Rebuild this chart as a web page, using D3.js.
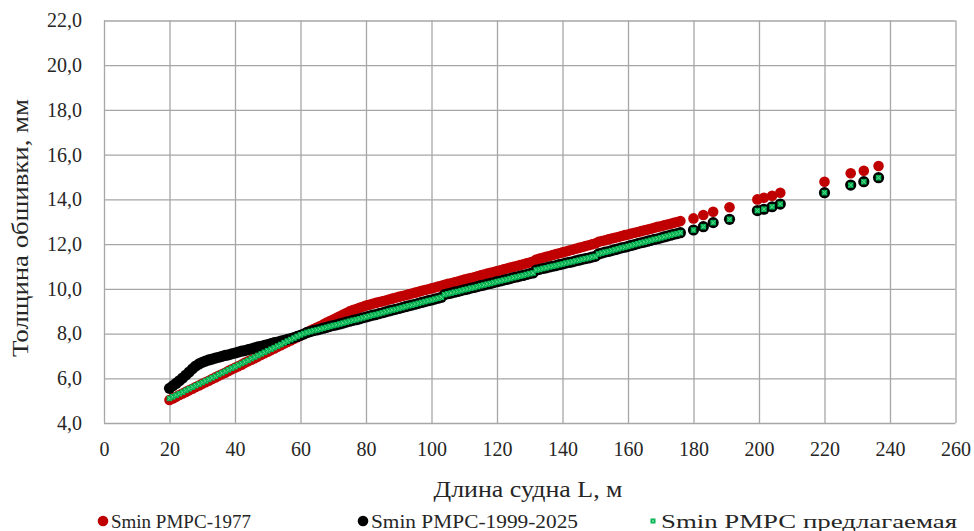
<!DOCTYPE html>
<html lang="ru">
<head>
<meta charset="utf-8">
<script src="https://cdn.jsdelivr.net/npm/d3@7"></script>
<style>
  html, body { margin: 0; padding: 0; background: #ffffff; }
  svg { display: block; }
  .axis path { display: none; }
  .axis line { stroke: #a6a6a6; stroke-width: 1.3; }
</style>
</head>
<body>
<svg id="chart" width="974" height="531"></svg>
<script>
// Ship length L, m (shared by all three series)
const lengths = [
  20,21,22,23,24,25,26,27,28,29,30,31,32,33,34,35,36,37,38,39,
  40,41,42,43,44,45,46,47,48,49,50,51,52,53,54,55,56,57,58,59,
  60,61,62,63,64,65,66,67,68,69,70,71,72,73,74,75,76,77,78,79,
  80,81,82,83,84,85,86,87,88,89,90,91,92,93,94,95,96,97,98,99,
  100,101,102,103,104,105,106,107,108,109,110,111,112,113,114,115,116,117,118,119,
  120,121,122,123,124,125,126,127,128,129,130,131,132,133,134,135,136,137,138,139,
  140,141,142,143,144,145,146,147,148,149,150,151,152,153,154,155,156,157,158,159,
  160,161,162,163,164,165,166,167,168,169,170,171,172,173,174,175,176,
  180,183,186,191,199.5,201.5,204,206.5,220,228,232,236.5
];

// Smin РМРС-1977, mm
const rmrs1977 = [
  5.03,5.10,5.17,5.25,5.32,5.39,5.46,5.53,5.61,5.68,5.75,5.82,5.89,5.97,6.04,6.11,6.18,6.25,6.33,6.40,
  6.47,6.54,6.61,6.69,6.76,6.83,6.90,6.97,7.05,7.12,7.19,7.26,7.33,7.41,7.48,7.55,7.62,7.69,7.77,7.84,
  7.91,7.98,8.05,8.13,8.20,8.27,8.34,8.41,8.49,8.56,8.63,8.70,8.77,8.85,8.92,8.99,9.05,9.10,9.15,9.20,
  9.25,9.29,9.33,9.37,9.41,9.44,9.48,9.52,9.56,9.60,9.64,9.68,9.71,9.75,9.79,9.83,9.87,9.91,9.95,9.98,
  10.02,10.06,10.10,10.14,10.18,10.22,10.25,10.29,10.33,10.37,10.41,10.45,10.48,10.52,10.56,10.60,10.64,10.68,10.72,10.75,
  10.79,10.83,10.87,10.91,10.95,10.98,11.02,11.06,11.10,11.14,11.18,11.22,11.31,11.35,11.39,11.43,11.47,11.51,11.55,11.59,
  11.63,11.67,11.71,11.75,11.79,11.83,11.87,11.91,11.95,11.99,12.03,12.10,12.14,12.17,12.21,12.25,12.28,12.32,12.36,12.40,
  12.43,12.47,12.51,12.54,12.58,12.62,12.65,12.69,12.73,12.77,12.80,12.84,12.88,12.91,12.95,12.99,13.03,
  13.15,13.30,13.45,13.65,14.00,14.07,14.16,14.30,14.79,15.17,15.28,15.49
];

// Smin РМРС-1999-2025, mm
const rmrs1999 = [
  5.55,5.66,5.77,5.89,6.01,6.14,6.28,6.42,6.55,6.64,6.71,6.77,6.82,6.86,6.90,6.94,6.98,7.02,7.05,7.09,
  7.13,7.17,7.21,7.24,7.28,7.32,7.36,7.40,7.43,7.47,7.51,7.55,7.59,7.62,7.66,7.70,7.74,7.78,7.82,7.87,
  7.92,7.98,8.05,8.09,8.13,8.16,8.20,8.24,8.28,8.32,8.36,8.39,8.43,8.47,8.51,8.55,8.59,8.62,8.66,8.70,
  8.74,8.78,8.82,8.85,8.89,8.93,8.97,9.01,9.05,9.08,9.12,9.16,9.20,9.24,9.27,9.31,9.35,9.39,9.43,9.47,
  9.50,9.54,9.58,9.62,9.74,9.78,9.81,9.85,9.88,9.92,9.96,9.99,10.03,10.06,10.10,10.14,10.17,10.21,10.24,10.28,
  10.32,10.35,10.39,10.42,10.46,10.50,10.53,10.57,10.60,10.64,10.68,10.71,10.84,10.87,10.91,10.94,10.98,11.01,11.04,11.08,
  11.11,11.15,11.18,11.21,11.25,11.28,11.32,11.35,11.38,11.42,11.45,11.56,11.60,11.64,11.67,11.71,11.75,11.79,11.83,11.86,
  11.90,11.94,11.98,12.02,12.06,12.09,12.13,12.17,12.21,12.24,12.28,12.32,12.36,12.40,12.44,12.47,12.51,
  12.63,12.78,12.96,13.11,13.50,13.56,13.67,13.79,14.30,14.64,14.79,14.97
];

// Smin РМРС предлагаемая, mm
const rmrsProposed = [
  5.10,5.17,5.24,5.31,5.38,5.46,5.53,5.60,5.67,5.74,5.81,5.88,5.95,6.02,6.09,6.17,6.24,6.31,6.38,6.45,
  6.52,6.59,6.66,6.73,6.80,6.88,6.95,7.02,7.09,7.16,7.23,7.30,7.37,7.44,7.51,7.59,7.66,7.73,7.80,7.87,
  7.94,8.00,8.05,8.09,8.13,8.16,8.20,8.24,8.28,8.32,8.36,8.39,8.43,8.47,8.51,8.55,8.59,8.62,8.66,8.70,
  8.74,8.78,8.82,8.85,8.89,8.93,8.97,9.01,9.05,9.08,9.12,9.16,9.20,9.24,9.27,9.31,9.35,9.39,9.43,9.47,
  9.50,9.54,9.58,9.62,9.74,9.78,9.81,9.85,9.88,9.92,9.96,9.99,10.03,10.06,10.10,10.14,10.17,10.21,10.24,10.28,
  10.32,10.35,10.39,10.42,10.46,10.50,10.53,10.57,10.60,10.64,10.68,10.71,10.84,10.87,10.91,10.94,10.98,11.01,11.04,11.08,
  11.11,11.15,11.18,11.21,11.25,11.28,11.32,11.35,11.38,11.42,11.45,11.56,11.60,11.64,11.67,11.71,11.75,11.79,11.83,11.86,
  11.90,11.94,11.98,12.02,12.06,12.09,12.13,12.17,12.21,12.24,12.28,12.32,12.36,12.40,12.44,12.47,12.51,
  12.63,12.78,12.96,13.11,13.50,13.56,13.67,13.79,14.30,14.64,14.79,14.97
];

const xTicks = [0,20,40,60,80,100,120,140,160,180,200,220,240,260];
const yTicks = [4,6,8,10,12,14,16,18,20,22];

const seriesNames = ["Smin РМРС-1977", "Smin РМРС-1999-2025", "Smin РМРС предлагаемая"];
const xTitle = "Длина судна L, м";
const yTitle = "Толщина обшивки, мм";

const FONT = "'Liberation Serif', 'Times New Roman', Times, Tinos, 'Noto Serif', 'DejaVu Serif', FreeSerif, serif";
const TEXT = "#262626";
const COLORS = { red: "#c00000", black: "#000000", green: "#00b050", greenLight: "#62d98f" };

const svg = d3.select("#chart");
const plot = { left: 104, right: 955.5, top: 20.5, bottom: 423 };

const x = d3.scaleLinear().domain([0, 260]).range([plot.left, plot.right]);
const y = d3.scaleLinear().domain([4, 22]).range([plot.bottom, plot.top]);

const fmt = v => d3.format(".1f")(v).replace(".", ",");

// Gridlines + tick labels
const xAxis = svg.append("g")
  .attr("class", "axis")
  .attr("transform", `translate(0,${plot.bottom})`)
  .call(d3.axisBottom(x).tickValues(xTicks).tickFormat(d3.format("d"))
    .tickSizeInner(-(plot.bottom - plot.top)).tickSizeOuter(0).tickPadding(19));

const yAxis = svg.append("g")
  .attr("class", "axis")
  .attr("transform", `translate(${plot.left},0)`)
  .call(d3.axisLeft(y).tickValues(yTicks).tickFormat(fmt)
    .tickSizeInner(-(plot.right - plot.left)).tickSizeOuter(0).tickPadding(22));

[xAxis, yAxis].forEach(a => a.attr("font-family", FONT).attr("font-size", 20)
  .selectAll("text").attr("fill", TEXT).attr("font-family", FONT).attr("font-size", 20));

const rows = lengths.map((L, i) => ({ L, a: rmrs1977[i], b: rmrs1999[i], c: rmrsProposed[i] }));

svg.append("g").selectAll("circle").data(rows).join("circle")
  .attr("cx", d => x(d.L)).attr("cy", d => y(d.a)).attr("r", 5.3)
  .attr("fill", COLORS.red);

svg.append("g").selectAll("circle").data(rows).join("circle")
  .attr("cx", d => x(d.L)).attr("cy", d => y(d.b)).attr("r", 5.6)
  .attr("fill", COLORS.black);

// "x" marker: green square body with a lighter cross
function xMarker(sel, s) {
  sel.append("rect").attr("x", -s).attr("y", -s).attr("width", 2 * s).attr("height", 2 * s)
    .attr("fill", COLORS.green);
  sel.append("path").attr("d", `M${-s + 1},${-s + 1}L${s - 1},${s - 1}M${-s + 1},${s - 1}L${s - 1},${-s + 1}`)
    .attr("stroke", COLORS.greenLight).attr("stroke-width", 1).attr("fill", "none");
}

svg.append("g").selectAll("g").data(rows).join("g")
  .attr("transform", d => `translate(${x(d.L)},${y(d.c)})`)
  .each(function () { xMarker(d3.select(this), 2.8); });

// Axis titles
svg.append("text")
  .attr("x", 528).attr("y", 497)
  .attr("text-anchor", "middle")
  .attr("font-family", FONT).attr("font-size", 24).attr("fill", TEXT)
  .attr("textLength", 189).attr("lengthAdjust", "spacingAndGlyphs")
  .text(xTitle);

svg.append("text")
  .attr("transform", `translate(28,228) rotate(-90)`)
  .attr("text-anchor", "middle")
  .attr("font-family", FONT).attr("font-size", 24).attr("fill", TEXT)
  .attr("textLength", 258).attr("lengthAdjust", "spacingAndGlyphs")
  .text(yTitle);

// Legend
const legend = svg.append("g").attr("font-family", FONT).attr("font-size", 19).attr("fill", TEXT);
const legendItems = [
  { name: seriesNames[0], x: 103, kind: "red", w: 140 },
  { name: seriesNames[1], x: 363, kind: "black", w: 207 },
  { name: seriesNames[2], x: 653, kind: "green", w: 296 }
];
const ly = 521;
legendItems.forEach(it => {
  const g = legend.append("g").attr("transform", `translate(${it.x},${ly})`);
  if (it.kind === "green") {
    xMarker(g, 2.5);
  } else {
    g.append("circle").attr("r", 5.3).attr("fill", COLORS[it.kind]);
  }
  g.append("text").attr("x", 8).attr("y", 6.5)
    .attr("textLength", it.w).attr("lengthAdjust", "spacingAndGlyphs")
    .text(it.name);
});
</script>
</body>
</html>
